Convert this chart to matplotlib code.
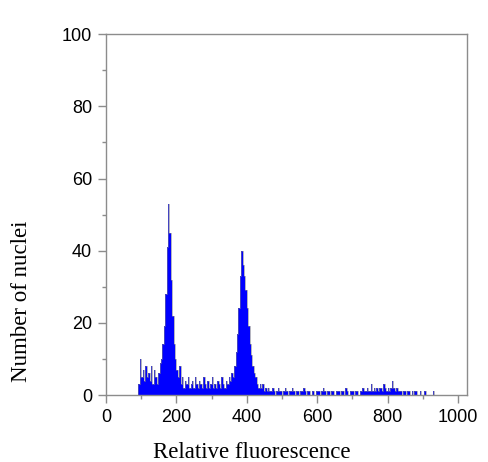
import matplotlib
matplotlib.use("Agg")
import matplotlib.pyplot as plt
import numpy as np

# histogram: bins of 4 channels starting at channel 92
bin_start = 92
bin_width = 4

low_shoulder = [3, 10, 5, 7, 4, 8, 5, 6, 4, 8, 3, 7, 5, 3, 6]            # 92-148
g1_peak = [9, 10, 14, 19, 28, 41, 53, 45, 32, 22, 14, 10, 7, 5, 8]       # 152-208
s_phase = [3, 5, 2, 4, 3, 5, 2, 3, 4, 2, 5, 3, 2, 4, 3, 2, 5, 3,
           2, 4, 2, 3, 5, 2, 3, 2, 4, 3, 2, 5, 3, 2, 4, 3, 5, 4]        # 212-352
g2_peak = [6, 5, 8, 12, 17, 24, 33, 40, 36, 33, 29, 24, 19, 14, 11,
           8, 6, 5, 3, 2, 3]                                             # 356-436
tail_a = [2, 3, 1, 2, 1, 2, 1, 1, 2, 1, 0, 1, 2, 1, 1, 0, 1, 2, 1, 0,
          1, 1, 2, 1, 0, 1]                                              # 440-540
tail_b = [1, 0, 1, 1, 2, 1, 0, 1, 1, 0, 1, 1, 0, 1, 1, 1, 0, 1, 2, 1,
          0, 1, 1, 0, 1, 1, 0, 1, 1, 1, 0, 1, 1, 0, 2, 1, 0, 1, 1, 1,
          0, 1, 1, 0, 1, 1, 2, 1]                                        # 544-732
tail_c = [1, 2, 1, 1, 3, 1, 2, 1, 2, 1, 2, 2, 1, 3, 2, 1, 2, 1, 2, 4,
          2, 1, 2, 1, 1]                                                 # 736-832
tail_d = [1, 0, 1, 1, 0, 1, 1, 0, 1, 0, 1, 1, 0, 0, 1, 0, 0, 1, 0, 0,
          0, 0, 0, 1]                                                    # 836-928

counts = np.array(low_shoulder + g1_peak + s_phase + g2_peak
                  + tail_a + tail_b + tail_c + tail_d)
edges = bin_start + bin_width * np.arange(len(counts) + 1)

fig = plt.figure(figsize=(4.89, 4.62), dpi=100)
ax = fig.add_axes([0.2168, 0.145, 0.738, 0.781])

ax.stairs(counts, edges, fill=True, color='#0000ff', linewidth=0)
ax.stairs(counts, edges, color='#7a7a90', linewidth=0.4)

ax.set_xlim(0, 1025)
ax.set_ylim(0, 100)
ax.set_xticks(np.arange(0, 1001, 200))
ax.set_xticks(np.arange(100, 1000, 200), minor=True)
ax.set_yticks(np.arange(0, 101, 20))
ax.set_yticks(np.arange(10, 100, 20), minor=True)

gray = '#8c8c8c'
for s in ax.spines.values():
    s.set_color(gray)
    s.set_linewidth(1.0)
ax.tick_params(which='major', direction='out', length=6, width=1, color=gray,
               labelsize=13, pad=4)
ax.tick_params(which='minor', direction='out', length=3, width=1, color=gray)
for lab in ax.get_xticklabels() + ax.get_yticklabels():
    lab.set_family(['Liberation Sans', 'DejaVu Sans'])

fig.text(252 / 489, 1 - 453 / 462, 'Relative fluorescence', ha='center',
         va='center', family='Liberation Serif', fontsize=16.5)
fig.text(22 / 489, 1 - 301 / 462, 'Number of nuclei', ha='center',
         va='center', rotation=90, family='Liberation Serif', fontsize=16.5)

fig.savefig('out.png', dpi=100)
